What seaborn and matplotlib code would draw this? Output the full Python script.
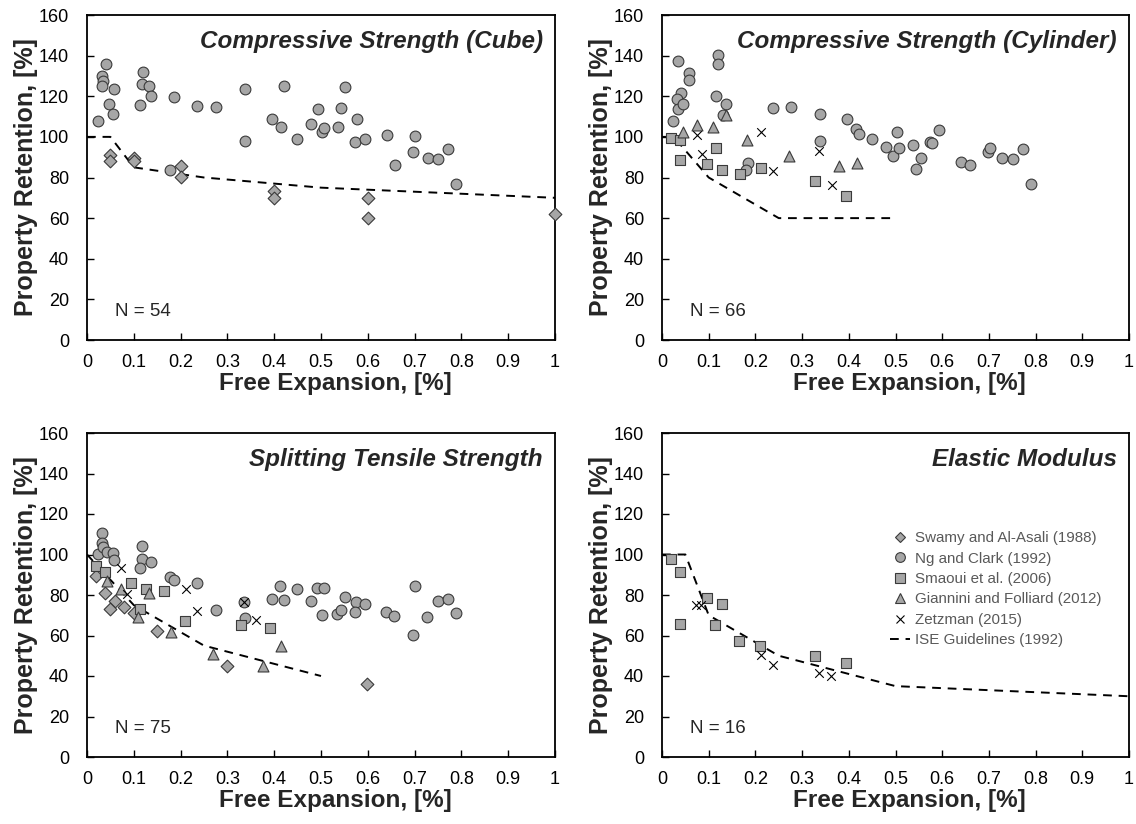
import numpy as np
import pandas as pd
import seaborn as sns
import matplotlib
matplotlib.use("Agg")
import matplotlib.pyplot as plt
from matplotlib.lines import Line2D
from matplotlib.ticker import FuncFormatter, MultipleLocator

sns.set_theme(style="white")
plt.rcParams["font.family"] = ["Liberation Sans", "DejaVu Sans"]

# ---------------------------------------------------------------- data
# Compressive strength (cube)
cube_ng_x = [0.024, 0.033, 0.035, 0.032, 0.040, 0.058, 0.046, 0.056, 0.119, 0.118,
             0.132, 0.137, 0.114, 0.185, 0.177, 0.236, 0.276, 0.338, 0.337, 0.422,
             0.395, 0.414, 0.448, 0.479, 0.494, 0.503, 0.507, 0.536, 0.543, 0.551,
             0.576, 0.573, 0.593, 0.640, 0.658, 0.701, 0.697, 0.729, 0.751, 0.772,
             0.788]
cube_ng_y = [107.6, 130.0, 127.4, 124.9, 136.1, 123.8, 116.3, 111.1, 131.7, 125.9,
             124.9, 120.3, 115.7, 119.6, 83.7, 115.3, 114.5, 123.8, 98.0, 125.1,
             108.7, 104.8, 99.2, 106.4, 113.9, 102.5, 104.5, 104.8, 114.2, 124.8,
             108.9, 97.5, 98.8, 100.7, 86.0, 100.5, 92.7, 89.8, 89.1, 93.9,
             76.6]
cube_swamy_x = [0.05, 0.05, 0.10, 0.10, 0.20, 0.20, 0.40, 0.40, 0.60, 0.60, 1.00]
cube_swamy_y = [91.3, 88.3, 89.4, 88.3, 85.5, 80.4, 73.4, 70.1, 70.1, 60.1, 62.2]
cube_ise_x = [0, 0.05, 0.1, 0.25, 0.5, 1.0]
cube_ise_y = [100, 100, 85, 80, 75, 70]

# Compressive strength (cylinder)
cyl_ng_x = [0.034, 0.057, 0.058, 0.041, 0.032, 0.034, 0.046, 0.024, 0.120, 0.119,
            0.115, 0.138, 0.130, 0.237, 0.277, 0.339, 0.338, 0.185, 0.179, 0.396,
            0.415, 0.422, 0.450, 0.480, 0.495, 0.504, 0.507, 0.537, 0.544, 0.554,
            0.574, 0.578, 0.594, 0.640, 0.659, 0.698, 0.702, 0.729, 0.752, 0.773,
            0.790]
cyl_ng_y = [137.6, 131.5, 127.9, 121.8, 118.8, 113.7, 116.2, 107.6, 140.3, 135.8,
            120.3, 116.0, 110.7, 114.2, 114.5, 111.1, 98.0, 87.0, 83.7, 108.9,
            103.8, 101.2, 99.2, 94.9, 90.6, 102.5, 94.4, 96.2, 84.0, 89.4,
            97.7, 97.0, 103.3, 87.6, 86.1, 92.6, 94.6, 89.8, 89.3, 93.9,
            76.6]
cyl_smaoui_x = [0.020, 0.039, 0.039, 0.115, 0.096, 0.128, 0.166, 0.211, 0.328, 0.393]
cyl_smaoui_y = [99.5, 98.3, 88.6, 94.6, 86.8, 83.5, 81.5, 84.7, 78.5, 70.8]
cyl_giannini_x = [0.045, 0.074, 0.110, 0.136, 0.181, 0.273, 0.379, 0.417]
cyl_giannini_y = [102.3, 105.9, 104.8, 110.7, 98.5, 90.6, 85.5, 87.1]
cyl_zetzman_x = [0.074, 0.086, 0.213, 0.237, 0.336, 0.363]
cyl_zetzman_y = [100.7, 91.6, 102.5, 83.0, 92.9, 76.1]
cyl_ise_x = [0, 0.025, 0.1, 0.25, 0.5]
cyl_ise_y = [100, 100, 80, 60, 60]

# Splitting tensile strength
split_ng_x = [0.033, 0.031, 0.024, 0.035, 0.043, 0.055, 0.057, 0.118, 0.118, 0.113,
              0.137, 0.177, 0.185, 0.236, 0.275, 0.335, 0.337, 0.395, 0.413, 0.421,
              0.448, 0.479, 0.492, 0.506, 0.503, 0.535, 0.542, 0.551, 0.575, 0.573,
              0.593, 0.639, 0.657, 0.700, 0.697, 0.727, 0.750, 0.771, 0.788]
split_ng_y = [110.6, 105.5, 100.2, 103.9, 101.4, 100.6, 97.4, 104.2, 97.9, 93.3,
              96.3, 88.7, 87.2, 86.1, 72.4, 76.5, 68.4, 77.8, 84.2, 77.6,
              82.9, 76.8, 83.7, 83.3, 70.2, 70.6, 72.4, 79.1, 76.7, 71.4,
              75.8, 71.7, 69.7, 84.6, 60.3, 69.2, 77.0, 78.1, 70.9]
split_swamy_x = [0.019, 0.038, 0.059, 0.049, 0.079, 0.100, 0.150, 0.299, 0.599]
split_swamy_y = [89.4, 81.1, 77.2, 73.0, 74.2, 71.1, 62.0, 44.8, 35.9]
split_smaoui_x = [0.019, 0.038, 0.093, 0.127, 0.165, 0.114, 0.209, 0.328, 0.391]
split_smaoui_y = [94.3, 91.2, 85.7, 82.9, 81.9, 73.0, 67.3, 65.3, 63.6]
split_giannini_x = [0.043, 0.072, 0.133, 0.108, 0.180, 0.270, 0.377, 0.415]
split_giannini_y = [87.0, 82.9, 80.9, 69.1, 61.5, 50.9, 44.8, 54.9]
split_zetzman_x = [0.073, 0.085, 0.211, 0.236, 0.335, 0.361]
split_zetzman_y = [93.3, 80.3, 82.8, 71.9, 76.3, 67.6]
split_ise_x = [0, 0.1, 0.25, 0.5]
split_ise_y = [100, 75, 55, 40]

# Elastic modulus
mod_smaoui_x = [0.020, 0.038, 0.039, 0.096, 0.128, 0.114, 0.165, 0.210, 0.328, 0.393]
mod_smaoui_y = [97.8, 91.2, 65.9, 78.3, 75.8, 65.1, 57.5, 54.7, 50.1, 46.5]
mod_zetzman_x = [0.073, 0.083, 0.212, 0.237, 0.336, 0.362]
mod_zetzman_y = [75.2, 75.2, 50.6, 45.3, 41.7, 40.1]
mod_ise_x = [0, 0.05, 0.1, 0.25, 0.5, 1.0]
mod_ise_y = [100, 100, 70, 50, 35, 30]

studies = ["Swamy and Al-Asali (1988)", "Ng and Clark (1992)", "Smaoui et al. (2006)",
           "Giannini and Folliard (2012)", "Zetzman (2015)"]
guideline = "ISE Guidelines (1992)"

panels = [
    ("Compressive Strength (Cube)", 54,
     {studies[0]: (cube_swamy_x, cube_swamy_y), studies[1]: (cube_ng_x, cube_ng_y)},
     (cube_ise_x, cube_ise_y)),
    ("Compressive Strength (Cylinder)", 66,
     {studies[1]: (cyl_ng_x, cyl_ng_y), studies[2]: (cyl_smaoui_x, cyl_smaoui_y),
      studies[3]: (cyl_giannini_x, cyl_giannini_y), studies[4]: (cyl_zetzman_x, cyl_zetzman_y)},
     (cyl_ise_x, cyl_ise_y)),
    ("Splitting Tensile Strength", 75,
     {studies[0]: (split_swamy_x, split_swamy_y), studies[1]: (split_ng_x, split_ng_y),
      studies[2]: (split_smaoui_x, split_smaoui_y), studies[3]: (split_giannini_x, split_giannini_y),
      studies[4]: (split_zetzman_x, split_zetzman_y)},
     (split_ise_x, split_ise_y)),
    ("Elastic Modulus", 16,
     {studies[2]: (mod_smaoui_x, mod_smaoui_y), studies[4]: (mod_zetzman_x, mod_zetzman_y)},
     (mod_ise_x, mod_ise_y)),
]

# ---------------------------------------------------------------- styling
FILL = "#a6a6a6"
EDGE = "#3a3a3a"
marker_style = {
    studies[0]: dict(marker="D", s=42, color=FILL, edgecolor=EDGE, linewidth=0.8),
    studies[1]: dict(marker="o", s=60, color=FILL, edgecolor=EDGE, linewidth=0.8),
    studies[2]: dict(marker="s", s=60, color=FILL, edgecolor=EDGE, linewidth=0.8),
    studies[3]: dict(marker="^", s=62, color=FILL, edgecolor=EDGE, linewidth=0.8),
    studies[4]: dict(marker="x", s=38, color="black", linewidth=0.8),
}

fig = plt.figure(figsize=(11.36, 8.24), dpi=100)
W, H = 1136, 824
boxes = [(87, 15, 468, 325), (662, 15, 467, 325), (87, 433, 468, 324), (662, 433, 467, 324)]

fmt = FuncFormatter(lambda v, p: ("%g" % round(v, 1)))

for (title, n, series, ise), (bx, by, bw, bh) in zip(panels, boxes):
    ax = fig.add_axes([bx / W, 1 - (by + bh) / H, bw / W, bh / H])
    ise_df = pd.DataFrame({"Expansion": ise[0], "Retention": ise[1]})
    sns.lineplot(data=ise_df, x="Expansion", y="Retention", ax=ax, color="black",
                 linestyle=(0, (4.5, 3.5)), linewidth=1.4, zorder=1)
    for name, (xs, ys) in series.items():
        df = pd.DataFrame({"Expansion": xs, "Retention": ys})
        sns.scatterplot(data=df, x="Expansion", y="Retention", ax=ax, zorder=3,
                        clip_on=False, legend=False, **marker_style[name])
    ax.set_xlim(0, 1)
    ax.set_ylim(0, 160)
    ax.xaxis.set_major_locator(MultipleLocator(0.1))
    ax.yaxis.set_major_locator(MultipleLocator(20))
    ax.xaxis.set_major_formatter(fmt)
    ax.tick_params(axis="both", direction="in", length=5, width=1.0, color="black",
                   labelsize=13, labelcolor="black", bottom=True, left=True,
                   top=False, right=False)
    ax.tick_params(axis="x", pad=10)
    ax.tick_params(axis="y", pad=13)
    for sp in ax.spines.values():
        sp.set_visible(True)
        sp.set_color("black")
        sp.set_linewidth(1.3)
    ax.set_xlabel("Free Expansion, [%]", fontsize=17.5, fontweight="bold")
    ax.set_ylabel("Property Retention, [%]", fontsize=18, fontweight="bold")
    ax.xaxis.label.set_va("center")
    ax.yaxis.label.set_va("center")
    ax.xaxis.set_label_coords(0.53, -43.0 / bh)
    ax.yaxis.set_label_coords(-61.0 / bw, 0.5)
    ax.text(0.974, 0.918, title, transform=ax.transAxes, ha="right", va="center",
            fontsize=17.5, fontweight="bold", fontstyle="italic")
    ax.text(0.06, 0.088, f"N = {n}", transform=ax.transAxes, ha="left", va="center",
            fontsize=13.5)
    ax.grid(False)
    ax.set_facecolor("white")

# legend in the elastic modulus panel
handles = []
legend_sizes = {studies[0]: 5.5, studies[1]: 7, studies[2]: 7, studies[3]: 7, studies[4]: 6}
for name in studies:
    st = marker_style[name]
    if st["marker"] == "x":
        h = Line2D([], [], linestyle="none", marker="x", markersize=legend_sizes[name],
                   color="black", markeredgewidth=0.8)
    else:
        h = Line2D([], [], linestyle="none", marker=st["marker"], markersize=legend_sizes[name],
                   markerfacecolor=FILL, markeredgecolor=EDGE, markeredgewidth=0.8)
    handles.append(h)
handles.append(Line2D([], [], color="black", linestyle=(0, (4.5, 3.5)), linewidth=1.4))
labels = studies + [guideline]
ax = fig.axes[3]
leg = ax.legend(handles, labels, loc="upper left", bbox_to_anchor=(0.475, 0.715),
                frameon=False, fontsize=10.9, handlelength=1.3, handletextpad=0.35,
                labelspacing=0.42, borderaxespad=0)
for t in leg.get_texts():
    t.set_color("#595959")

fig.savefig("out.png", dpi=100, facecolor="white")
